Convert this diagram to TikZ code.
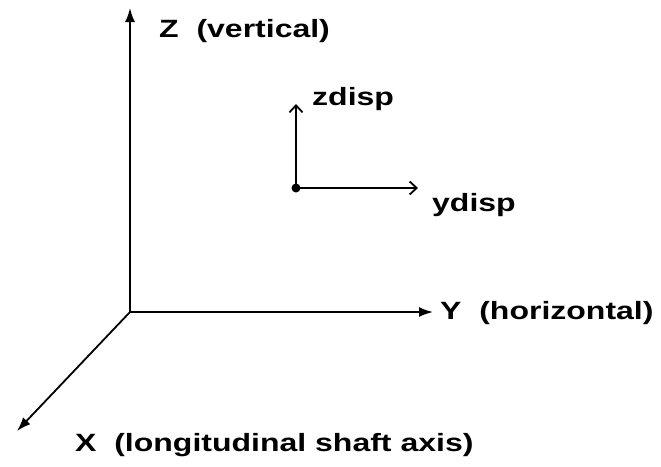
\documentclass[tikz,border=0pt]{standalone}
\usepackage{fontspec}
\usepackage{graphicx}
\setmainfont{Liberation Sans}
\usetikzlibrary{arrows.meta}
\newcommand\sxt[1]{\scalebox{1.28}[1]{#1}}
\tikzset{
  lbl/.style={font=\fontsize{25}{29}\selectfont\bfseries, inner sep=0pt, anchor=west},
  axis/.style={line width=1.8pt, -{Latex[length=14pt,width=10pt]}},
  disp/.style={line width=1.8pt, -{Straight Barb[length=7pt,width=13pt]}}
}
\begin{document}
\begin{tikzpicture}[x=1pt,y=-1pt]
\useasboundingbox[fill=white] (0,0) rectangle (661,466);
\coordinate (O) at (130,312);
\coordinate (Zt) at (130,8);
\coordinate (Yt) at (433,312);
\coordinate (Xt) at (17,431);
\coordinate (D) at (296,188);
\coordinate (Dz) at (296,104);
\coordinate (Dy) at (418,188);
\draw[axis] (O) -- (Zt);
\draw[axis] (O) -- (Yt);
\draw[axis] (O) -- (Xt);
\draw[disp] (D) -- (Dz);
\draw[disp] (D) -- (Dy);
\fill (D) circle (4.5pt);
\node[lbl] (zl) at (159,31) {\sxt{Z~~(vertical)}};
\node[lbl] (yl) at (440,313) {\sxt{Y~~(horizontal)}};
\node[lbl] (xl) at (75,445) {\sxt{X~~(longitudinal shaft axis)}};
\node[lbl] (zd) at (312,99) {\sxt{zdisp}};
\node[lbl] (yd) at (432,205) {\sxt{ydisp}};
\end{tikzpicture}
\end{document}
